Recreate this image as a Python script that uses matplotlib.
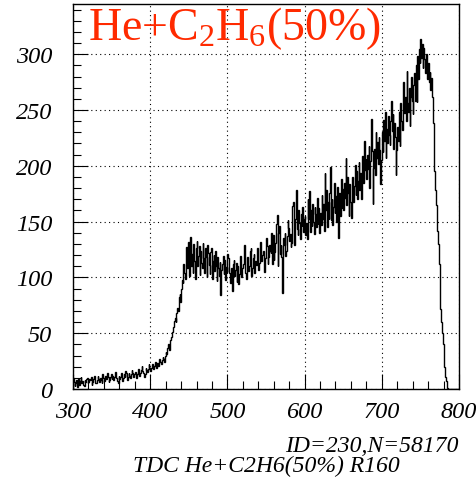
import numpy as np
import matplotlib
matplotlib.use("Agg")
import matplotlib.pyplot as plt

plt.rcParams['font.family'] = ['Liberation Serif', 'DejaVu Serif']
plt.rcParams['mathtext.fontset'] = 'custom'
plt.rcParams['mathtext.rm'] = 'Liberation Serif'
plt.rcParams['mathtext.it'] = 'Liberation Serif'

# TDC histogram, one channel per bin starting at 300 (10 channels per row)
tdc_start = 300
counts = [
    10, 6, 3, 5, 8, 2, 6, 9, 4, 7,
    11, 5, 7, 4, 3, 8, 6, 9, 10, 5,
    6, 9, 8, 11, 4, 6, 9, 12, 7, 5,
    5, 8, 12, 9, 6, 10, 8, 5, 13, 10,
    7, 10, 12, 9, 14, 11, 6, 8, 11, 13,
    9, 12, 8, 11, 13, 15, 10, 7, 5, 12,
    9, 11, 14, 12, 7, 10, 13, 11, 16, 14,
    8, 11, 14, 12, 10, 13, 17, 14, 11, 13,
    15, 12, 10, 13, 18, 15, 12, 14, 17, 21,
    16, 14, 11, 13, 19, 17, 15, 18, 22, 19,
    16, 19, 22, 20, 18, 21, 24, 22, 19, 23,
    21, 25, 27, 24, 22, 26, 29, 27, 24, 30,
    33, 31, 37, 40, 35, 38, 44, 47, 51, 54,
    56, 61, 64, 60, 68, 73, 70, 82, 85, 78,
    90, 98, 95, 112, 104, 99, 118, 127, 108, 132,
    101, 125, 136, 110, 121, 104, 130, 115, 99, 126,
    133, 110, 119, 128, 102, 124, 113, 108, 131, 117,
    104, 126, 118, 100, 129, 122, 111, 103, 123, 126,
    99, 115, 120, 106, 124, 110, 97, 118, 108, 101,
    114, 84, 107, 112, 119, 103, 116, 98, 109, 105,
    121, 117, 104, 99, 95, 108, 88, 112, 116, 101,
    107, 113, 96, 110, 94, 103, 119, 115, 100, 108,
    112, 127, 129, 104, 99, 115, 118, 106, 110, 124,
    126, 101, 108, 117, 121, 104, 115, 111, 126, 120,
    107, 113, 132, 127, 115, 120, 124, 109, 105, 117,
    135, 128, 112, 118, 129, 124, 122, 140, 112, 138,
    116, 123, 131, 148, 156, 110, 140, 146, 121, 129,
    118, 86, 135, 129, 140, 119, 124, 137, 151, 144,
    133, 139, 127, 131, 164, 168, 129, 136, 152, 178,
    143, 138, 160, 149, 134, 157, 146, 163, 141, 152,
    155, 138, 149, 134, 170, 152, 177, 141, 160, 146,
    166, 150, 139, 163, 157, 145, 171, 148, 162, 140,
    158, 147, 174, 152, 166, 142, 194, 160, 178, 145,
    168, 152, 176, 199, 151, 170, 147, 163, 185, 158,
    173, 150, 181, 135, 166, 176, 155, 188, 162, 179,
    160, 185, 171, 207, 165, 190, 176, 155, 184, 168,
    153, 176, 190, 168, 182, 201, 174, 195, 170, 186,
    203, 178, 194, 170, 187, 209, 185, 222, 196, 206,
    188, 210, 197, 218, 180, 204, 242, 213, 166, 198,
    215, 192, 230, 207, 221, 202, 226, 214, 184, 205,
    230, 212, 241, 222, 248, 207, 233, 220, 245, 228,
    219, 240, 258, 231, 246, 215, 238, 226, 192, 214,
    235, 222, 248, 218, 256, 240, 232, 259, 275, 247,
    262, 240, 285, 256, 248, 270, 236, 262, 280, 258,
    246, 272, 283, 258, 290, 257, 298, 278, 305, 292,
    314, 297, 309, 288, 306, 296, 283, 300, 289, 278,
    292, 275, 284, 268, 279, 262, 238, 217, 195, 178,
    165, 155, 142, 130, 112, 95, 72, 60, 50, 40,
    27, 20, 11, 7, 4, 1, 0, 0, 0, 0,
    0, 0, 0, 0, 0, 0, 0, 0, 0, 0,
]
edges = tdc_start + np.arange(len(counts) + 1)

title = 'He+C$_2$H$_6$(50%)'
hist_id = 'ID=230,N=58170'
hist_name = 'TDC He+C2H6(50%) R160'

fig = plt.figure(figsize=(4.77, 4.81), dpi=100)
ax = fig.add_axes([73/477, 1 - 390/481, 386/477, 385/481])

ax.stairs(counts, edges, color='black', linewidth=1.0, baseline=0)

ax.set_xlim(300, 800)
ax.set_ylim(0, 345)
ax.set_xticks(np.arange(300, 801, 100))
ax.set_xticks(np.arange(300, 801, 20), minor=True)
ax.set_yticks(np.arange(0, 301, 50))
ax.set_yticks(np.arange(0, 341, 10), minor=True)
ax.grid(True, which='major', color='black', linestyle=(0, (1, 3)), linewidth=0.8)

ax.tick_params(which='both', direction='in', top=False, right=False,
               labelsize=17.5, width=0.8)
ax.tick_params(which='major', length=11)
ax.tick_params(which='minor', length=5.5)
ax.tick_params(axis='x', pad=9)
ax.tick_params(axis='y', pad=15)
for lab in ax.get_xticklabels() + ax.get_yticklabels():
    lab.set_fontstyle('italic')
for sp in ax.spines.values():
    sp.set_linewidth(1.0)

ax.text(0.038, 0.91, title, transform=ax.transAxes, color='#ff2a00',
        fontsize=33, ha='left', va='baseline')

fig.text(459/477, 1 - 452/481, hist_id, ha='right', va='baseline',
         fontsize=17, style='italic')
fig.text(266/477, 1 - 472/481, hist_name, ha='center', va='baseline',
         fontsize=17, style='italic')

fig.savefig('out.png', dpi=100)
